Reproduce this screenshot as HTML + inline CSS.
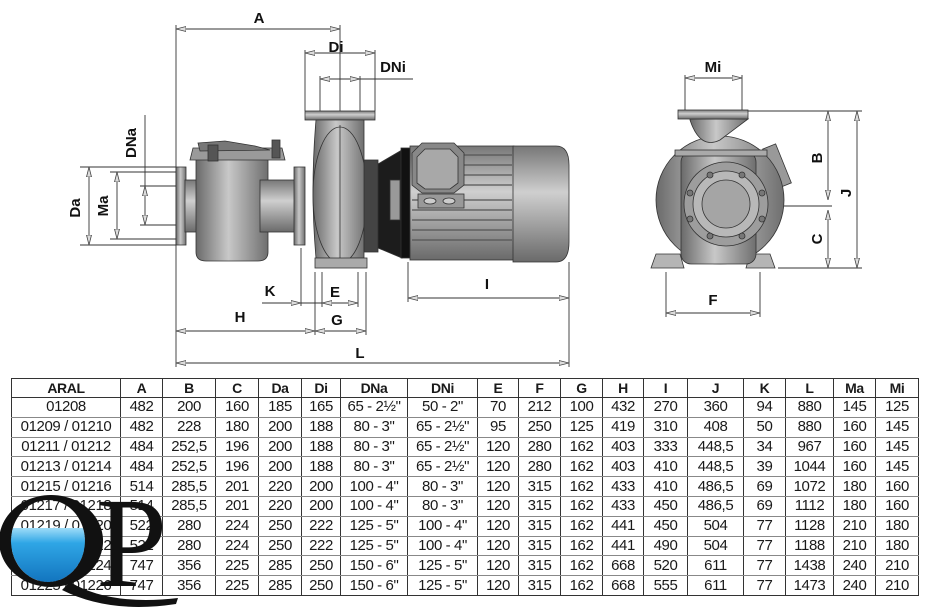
<!DOCTYPE html>
<html><head><meta charset="utf-8">
<style>
html,body{margin:0;padding:0;background:#fff;}
body{width:930px;height:608px;position:relative;overflow:hidden;font-family:"Liberation Sans Narrow","Liberation Sans",sans-serif;}
svg{position:absolute;left:0;top:0;}
table{position:absolute;left:11px;top:378px;width:907px;border-collapse:collapse;table-layout:fixed;}
td{border-left:1px solid #333;border-right:1px solid #333;border-bottom:1px solid #888;height:18.8px;padding:0;text-align:center;font-size:15px;letter-spacing:-0.4px;color:#1a1a1a;line-height:18px;white-space:nowrap;overflow:hidden;}
tr.h td{font-weight:bold;height:18px;border-top:1px solid #333;border-bottom:1px solid #333;font-size:14px;}
tr:last-child td{border-bottom:1px solid #333;}
.lbl{font-family:"Liberation Sans Narrow","Liberation Sans",sans-serif;font-weight:bold;font-size:15px;fill:#111;}
</style></head><body>
<table>
<colgroup><col style="width:109px"><col style="width:42px"><col style="width:53px"><col style="width:43px"><col style="width:43px"><col style="width:39px"><col style="width:67px"><col style="width:70px"><col style="width:41px"><col style="width:42px"><col style="width:42px"><col style="width:41px"><col style="width:44px"><col style="width:56px"><col style="width:42px"><col style="width:48px"><col style="width:42px"><col style="width:43px"></colgroup>
<tr class="h"><td>ARAL</td><td>A</td><td>B</td><td>C</td><td>Da</td><td>Di</td><td>DNa</td><td>DNi</td><td>E</td><td>F</td><td>G</td><td>H</td><td>I</td><td>J</td><td>K</td><td>L</td><td>Ma</td><td>Mi</td></tr>
<tr><td>01208</td><td>482</td><td>200</td><td>160</td><td>185</td><td>165</td><td>65 - 2½"</td><td>50 - 2"</td><td>70</td><td>212</td><td>100</td><td>432</td><td>270</td><td>360</td><td>94</td><td>880</td><td>145</td><td>125</td></tr>
<tr><td>01209 / 01210</td><td>482</td><td>228</td><td>180</td><td>200</td><td>188</td><td>80 - 3"</td><td>65 - 2½"</td><td>95</td><td>250</td><td>125</td><td>419</td><td>310</td><td>408</td><td>50</td><td>880</td><td>160</td><td>145</td></tr>
<tr><td>01211 / 01212</td><td>484</td><td>252,5</td><td>196</td><td>200</td><td>188</td><td>80 - 3"</td><td>65 - 2½"</td><td>120</td><td>280</td><td>162</td><td>403</td><td>333</td><td>448,5</td><td>34</td><td>967</td><td>160</td><td>145</td></tr>
<tr><td>01213 / 01214</td><td>484</td><td>252,5</td><td>196</td><td>200</td><td>188</td><td>80 - 3"</td><td>65 - 2½"</td><td>120</td><td>280</td><td>162</td><td>403</td><td>410</td><td>448,5</td><td>39</td><td>1044</td><td>160</td><td>145</td></tr>
<tr><td>01215 / 01216</td><td>514</td><td>285,5</td><td>201</td><td>220</td><td>200</td><td>100 - 4"</td><td>80 - 3"</td><td>120</td><td>315</td><td>162</td><td>433</td><td>410</td><td>486,5</td><td>69</td><td>1072</td><td>180</td><td>160</td></tr>
<tr><td>01217 / 01218</td><td>514</td><td>285,5</td><td>201</td><td>220</td><td>200</td><td>100 - 4"</td><td>80 - 3"</td><td>120</td><td>315</td><td>162</td><td>433</td><td>450</td><td>486,5</td><td>69</td><td>1112</td><td>180</td><td>160</td></tr>
<tr><td>01219 / 01220</td><td>522</td><td>280</td><td>224</td><td>250</td><td>222</td><td>125 - 5"</td><td>100 - 4"</td><td>120</td><td>315</td><td>162</td><td>441</td><td>450</td><td>504</td><td>77</td><td>1128</td><td>210</td><td>180</td></tr>
<tr><td>01221 / 01222</td><td>522</td><td>280</td><td>224</td><td>250</td><td>222</td><td>125 - 5"</td><td>100 - 4"</td><td>120</td><td>315</td><td>162</td><td>441</td><td>490</td><td>504</td><td>77</td><td>1188</td><td>210</td><td>180</td></tr>
<tr><td>01223 / 01224</td><td>747</td><td>356</td><td>225</td><td>285</td><td>250</td><td>150 - 6"</td><td>125 - 5"</td><td>120</td><td>315</td><td>162</td><td>668</td><td>520</td><td>611</td><td>77</td><td>1438</td><td>240</td><td>210</td></tr>
<tr><td>01225 / 01226</td><td>747</td><td>356</td><td>225</td><td>285</td><td>250</td><td>150 - 6"</td><td>125 - 5"</td><td>120</td><td>315</td><td>162</td><td>668</td><td>555</td><td>611</td><td>77</td><td>1473</td><td>240</td><td>210</td></tr>
</table>

<svg width="930" height="608" viewBox="0 0 930 608" xmlns="http://www.w3.org/2000/svg">
<defs>
<linearGradient id="gv" x1="0" y1="0" x2="1" y2="0"><stop offset="0" stop-color="#6a6a6a"/><stop offset=".45" stop-color="#c8c8c8"/><stop offset="1" stop-color="#6f6f6f"/></linearGradient>
<linearGradient id="gh" x1="0" y1="0" x2="0" y2="1"><stop offset="0" stop-color="#777"/><stop offset=".4" stop-color="#cfcfcf"/><stop offset="1" stop-color="#6a6a6a"/></linearGradient>
<linearGradient id="water" x1="0" y1="0" x2="0" y2="1"><stop offset="0" stop-color="#9fdcf8"/><stop offset=".25" stop-color="#2fa6e6"/><stop offset="1" stop-color="#0e6db8"/></linearGradient>
<clipPath id="qin"><ellipse cx="48" cy="541" rx="37" ry="41"/></clipPath>
<marker id="ar" viewBox="0 0 10 6" refX="10" refY="3" markerWidth="10" markerHeight="6" orient="auto-start-reverse" markerUnits="userSpaceOnUse"><path d="M0,0.5 L10,3 L0,5.5 Z" fill="#ddd" stroke="#444" stroke-width="0.8"/></marker>
</defs>
<g stroke="#333" stroke-width="0.9" fill="none">
<line x1="176" y1="25" x2="176" y2="367"/>
<line x1="340" y1="25" x2="340" y2="111"/>
<line x1="305" y1="50" x2="305" y2="111"/>
<line x1="375" y1="50" x2="375" y2="111"/>
<line x1="320" y1="76" x2="320" y2="111"/>
<line x1="360" y1="76" x2="360" y2="111"/>
<line x1="80" y1="167" x2="176" y2="167"/><line x1="80" y1="245" x2="176" y2="245"/>
<line x1="110" y1="172" x2="176" y2="172"/><line x1="110" y1="239" x2="176" y2="239"/>
<line x1="140" y1="186" x2="176" y2="186"/><line x1="140" y1="225" x2="176" y2="225"/>
<line x1="145" y1="115" x2="145" y2="186"/>
<line x1="301" y1="248" x2="301" y2="306"/>
<line x1="315" y1="272" x2="315" y2="335"/>
<line x1="366" y1="272" x2="366" y2="335"/>
<line x1="322" y1="272" x2="322" y2="307"/>
<line x1="358" y1="272" x2="358" y2="307"/>
<line x1="408" y1="262" x2="408" y2="302"/>
<line x1="569" y1="262" x2="569" y2="367"/>
<line x1="176" y1="29" x2="340" y2="29" marker-start="url(#ar)" marker-end="url(#ar)"/>
<line x1="305" y1="53" x2="375" y2="53" marker-start="url(#ar)" marker-end="url(#ar)"/>
<line x1="320" y1="79" x2="360" y2="79" marker-start="url(#ar)" marker-end="url(#ar)"/>
<line x1="360" y1="79" x2="413" y2="79"/>
<line x1="89" y1="167" x2="89" y2="245" marker-start="url(#ar)" marker-end="url(#ar)"/>
<line x1="117" y1="172" x2="117" y2="239" marker-start="url(#ar)" marker-end="url(#ar)"/>
<line x1="145" y1="186" x2="145" y2="225" marker-start="url(#ar)" marker-end="url(#ar)"/>
<line x1="262" y1="303" x2="301" y2="303" marker-end="url(#ar)"/>
<line x1="301" y1="303" x2="322" y2="303"/>
<line x1="322" y1="303" x2="358" y2="303" marker-start="url(#ar)" marker-end="url(#ar)"/>
<line x1="176" y1="331" x2="315" y2="331" marker-start="url(#ar)" marker-end="url(#ar)"/>
<line x1="315" y1="331" x2="366" y2="331" marker-start="url(#ar)" marker-end="url(#ar)"/>
<line x1="408" y1="298" x2="569" y2="298" marker-start="url(#ar)" marker-end="url(#ar)"/>
<line x1="176" y1="363" x2="569" y2="363" marker-start="url(#ar)" marker-end="url(#ar)"/>
<line x1="685" y1="75" x2="685" y2="111"/><line x1="742" y1="75" x2="742" y2="111"/>
<line x1="685" y1="78" x2="742" y2="78" marker-start="url(#ar)" marker-end="url(#ar)"/>
<line x1="748" y1="111" x2="862" y2="111"/>
<line x1="778" y1="268" x2="862" y2="268"/>
<line x1="725" y1="206" x2="832" y2="206"/>
<line x1="828" y1="111" x2="828" y2="200" marker-start="url(#ar)" marker-end="url(#ar)"/>
<line x1="828" y1="210" x2="828" y2="268" marker-start="url(#ar)" marker-end="url(#ar)"/>
<line x1="857" y1="111" x2="857" y2="268" marker-start="url(#ar)" marker-end="url(#ar)"/>
<line x1="666" y1="272" x2="666" y2="317"/><line x1="760" y1="272" x2="760" y2="317"/>
<line x1="666" y1="313" x2="760" y2="313" marker-start="url(#ar)" marker-end="url(#ar)"/>
</g>

<g stroke="#333" stroke-width="0.8">
<rect x="176" y="167" width="10" height="78" fill="url(#gv)"/>
<rect x="185" y="180" width="18" height="52" fill="url(#gh)"/>
<path d="M196,155 L268,155 L268,252 Q268,261 258,261 L206,261 Q196,261 196,252 Z" fill="url(#gv)"/>
<rect x="260" y="180" width="36" height="52" fill="url(#gh)"/>
<path d="M193,148 L282,148 L285,160 L190,160 Z" fill="#9a9a9a"/>
<path d="M198,143 L225,141 L255,146 L270,150 L200,151 Z" fill="#777"/>
<rect x="208" y="145" width="10" height="16" fill="#555"/>
<rect x="272" y="140" width="8" height="18" fill="#555"/>
<rect x="294" y="167" width="11" height="78" fill="url(#gv)"/>
<rect x="305" y="111" width="70" height="9" fill="url(#gh)"/>
<path d="M316,120 L364,120 L364,258 L316,258 Q310,190 316,120 Z" fill="url(#gv)"/>
<ellipse cx="340" cy="195" rx="27" ry="68" fill="url(#gv)"/>
<line x1="340" y1="125" x2="340" y2="262"/>
<rect x="315" y="258" width="52" height="10" fill="#aaa"/>
<rect x="364" y="160" width="14" height="92" fill="#444"/>
<path d="M378,164 L402,150 L402,258 L378,248 Z" fill="#1c1c1c"/>
<rect x="390" y="180" width="10" height="40" fill="#999"/>
<rect x="401" y="148" width="9" height="110" fill="#111"/>
<rect x="410" y="146" width="104" height="114" fill="url(#gh)"/>
<g stroke="#555" stroke-width="1.2">
<line x1="412" y1="200" x2="512" y2="200"/><line x1="412" y1="210" x2="512" y2="210"/><line x1="412" y1="220" x2="512" y2="220"/><line x1="412" y1="230" x2="512" y2="230"/><line x1="412" y1="240" x2="512" y2="240"/><line x1="464" y1="155" x2="512" y2="155"/><line x1="464" y1="165" x2="512" y2="165"/><line x1="464" y1="175" x2="512" y2="175"/><line x1="464" y1="185" x2="512" y2="185"/>
</g>
<path d="M422,143 L454,143 L464,153 L464,185 L454,193 L422,193 L412,185 L412,153 Z" fill="#888"/>
<path d="M425,149 L450,149 L458,157 L458,183 L450,189 L425,189 L417,183 L417,157 Z" fill="#a8a8a8"/>
<rect x="418" y="194" width="46" height="14" fill="#999"/>
<ellipse cx="430" cy="201" rx="6" ry="3" fill="#ccc"/><ellipse cx="449" cy="201" rx="6" ry="3" fill="#ccc"/>
<path d="M513,146 L556,146 Q569,146 569,165 L569,242 Q569,262 556,262 L513,262 Z" fill="url(#gh)"/>
</g>

<g stroke="#333" stroke-width="0.8">
<path d="M651,268 L656,254 L680,254 L684,268 Z" fill="#b5b5b5"/>
<path d="M746,268 L750,254 L770,254 L775,268 Z" fill="#b5b5b5"/>
<rect x="770" y="145" width="14" height="42" transform="rotate(-22 777 166)" fill="#999"/>
<circle cx="720" cy="200" r="64" fill="url(#gv)"/>
<path d="M690,120 Q700,150 720,140 L748,119 L690,119 Z" fill="url(#gv)"/>
<rect x="678" y="110" width="70" height="9" fill="url(#gh)"/>
<rect x="681" y="152" width="75" height="112" rx="10" fill="url(#gv)"/>
<rect x="675" y="150" width="92" height="6" fill="#aaa"/>
<circle cx="726" cy="204" r="42" fill="#9d9d9d"/>
<circle cx="726" cy="204" r="33" fill="#b8b8b8"/>
<circle cx="726" cy="204" r="24" fill="#a5a5a5"/>
<g fill="#777"><circle cx="710" cy="175" r="3"/><circle cx="742" cy="175" r="3"/><circle cx="690" cy="193" r="3"/><circle cx="762" cy="193" r="3"/><circle cx="690" cy="219" r="3"/><circle cx="762" cy="219" r="3"/><circle cx="710" cy="236" r="3"/><circle cx="742" cy="236" r="3"/></g>
</g>

<g class="lbl" text-anchor="middle">
<text x="259" y="23">A</text>
<text x="336" y="52">Di</text>
<text x="393" y="72">DNi</text>
<text x="270" y="296">K</text>
<text x="335" y="297">E</text>
<text x="240" y="322">H</text>
<text x="337" y="325">G</text>
<text x="487" y="289">I</text>
<text x="360" y="358">L</text>
<text x="713" y="72">Mi</text>
<text x="713" y="305">F</text>
<text transform="translate(80,208) rotate(-90)">Da</text>
<text transform="translate(108,206) rotate(-90)">Ma</text>
<text transform="translate(136,143) rotate(-90)">DNa</text>
<text transform="translate(822,158) rotate(-90)">B</text>
<text transform="translate(822,239) rotate(-90)">C</text>
<text transform="translate(851,193) rotate(-90)">J</text>
</g>

<!-- QP logo -->
<g>
<rect x="0" y="528" width="100" height="60" fill="url(#water)" clip-path="url(#qin)"/>
<path d="M70,582 Q110,606 178,598 L176,604 Q110,614 62,590 Z" fill="#111"/>
<path fill-rule="evenodd" fill="#111" d="M51,495 A52,46 0 1,0 51.1,495 Z M48,500 A37,41 0 1,1 47.9,500 Z"/>
<text x="96" y="586" font-family="Liberation Serif, serif" font-size="128" fill="#111">P</text>
</g>
</svg>
</body></html>
